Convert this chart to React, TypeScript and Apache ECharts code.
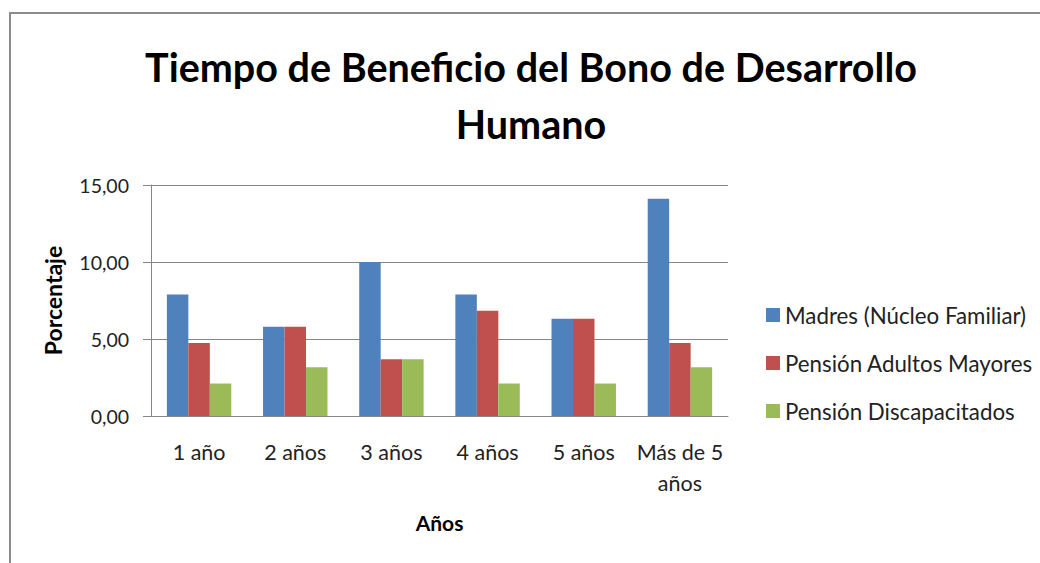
import React, { useEffect, useRef } from "react";
import * as echarts from "echarts";

const categories = ["1 año", "2 años", "3 años", "4 años", "5 años", "Más de 5\naños"];
const madres = [7.89, 5.79, 10.0, 7.89, 6.32, 14.11];
const adultos = [4.74, 5.79, 3.68, 6.84, 6.32, 4.74];
const discapacitados = [2.11, 3.16, 3.68, 2.11, 2.11, 3.16];
const seriesNames = ["Madres (Núcleo Familiar)", "Pensión Adultos Mayores", "Pensión Discapacitados"];
const colors = ["#4F81BD", "#C0504D", "#9BBB59"];
const titleText = "Tiempo de Beneficio del Bono de Desarrollo\nHumano";

const FONT = "Lato, 'Noto Sans', sans-serif";

export default function App() {
  const ref = useRef<HTMLDivElement>(null);
  useEffect(() => {
    if (!ref.current) return;
    const chart = echarts.init(ref.current, undefined, { renderer: "svg" });
    const values = [madres, adultos, discapacitados];
    chart.setOption({
      animation: false,
      backgroundColor: "#ffffff",
      textStyle: { fontFamily: FONT },
      title: {
        text: titleText,
        left: 526,
        top: 33,
        textAlign: "center",
        textStyle: {
          fontFamily: FONT,
          fontWeight: "bold",
          fontSize: 39.5,
          lineHeight: 57,
          color: "#000000",
        },
      },
      graphic: [
        {
          type: "rect",
          shape: { x: 10, y: 13, width: 1100, height: 620 },
          style: { fill: "none", stroke: "#8c8c8c", lineWidth: 2 },
          silent: true,
        },
      ],
      legend: {
        orient: "vertical",
        left: 766,
        top: 304,
        padding: 0,
        itemWidth: 14,
        itemHeight: 14,
        itemGap: 26,
        icon: "rect",
        data: seriesNames,
        textStyle: { fontFamily: FONT, fontSize: 22.3, lineHeight: 22, color: "#222222" },
      },
      grid: { left: 151, right: 312, top: 185, bottom: 147, containLabel: false },
      xAxis: {
        type: "category",
        data: categories,
        name: "Años",
        nameLocation: "middle",
        nameGap: 96,
        nameTextStyle: { fontFamily: FONT, fontWeight: "bold", fontSize: 21, color: "#000" },
        axisLine: { lineStyle: { color: "#868686", width: 1 } },
        axisTick: { show: false },
        axisLabel: { fontFamily: FONT, fontSize: 21.5, color: "#222", margin: 20, lineHeight: 31, interval: 0 },
      },
      yAxis: {
        type: "value",
        min: 0,
        max: 15,
        interval: 5,
        name: "Porcentaje",
        nameLocation: "middle",
        nameGap: 87,
        nameTextStyle: { fontFamily: FONT, fontWeight: "bold", fontSize: 23, color: "#000" },
        axisLine: { show: true, lineStyle: { color: "#868686", width: 1 } },
        axisTick: { show: true, length: 8, lineStyle: { color: "#868686" } },
        splitLine: { lineStyle: { color: "#868686", width: 1 } },
        axisLabel: {
          fontFamily: FONT,
          fontSize: 19.5,
          color: "#222",
          margin: 22,
          formatter: (v: number) => v.toFixed(2).replace(".", ","),
        },
      },
      series: values.map((d, i) => ({
        name: seriesNames[i],
        type: "bar",
        data: d,
        itemStyle: { color: colors[i] },
        barGap: "0%",
        barCategoryGap: "33%",
      })),
    });
    return () => chart.dispose();
  }, []);
  return (
    <div
      ref={ref}
      style={{ position: "fixed", left: 0, top: 0, width: 1040, height: 563 }}
    />
  );
}
